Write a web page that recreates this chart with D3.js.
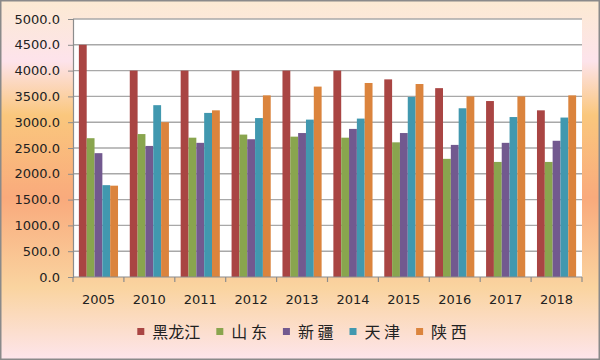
<!DOCTYPE html>
<html><head><meta charset="utf-8">
<script src="https://cdn.jsdelivr.net/npm/d3@7/dist/d3.min.js"></script>
<style>html,body{margin:0;padding:0;background:#fff;}svg{display:block;}</style>
</head><body>
<svg id="c" width="600" height="360"></svg>
<script>
const years = ["2005","2010","2011","2012","2013","2014","2015","2016","2017","2018"];
const seriesNames = ["黑龙江","山 东","新 疆","天 津","陕 西"];
const seriesColors = ["#A94543","#89A54E","#72598F","#4198AF","#DB843D"];
const heilongjiang = [4500,4000,4000,4000,4000,4000,3830,3660,3410,3230];
const shandong     = [2690,2770,2700,2760,2720,2700,2610,2290,2230,2230];
const xinjiang     = [2400,2540,2600,2670,2790,2870,2790,2560,2600,2640];
const tianjin      = [1780,3330,3180,3080,3050,3070,3490,3270,3100,3090];
const shaanxi      = [1770,3000,3230,3520,3690,3760,3740,3500,3500,3520];
const yTicks = [0,500,1000,1500,2000,2500,3000,3500,4000,4500,5000];

const seriesValues = [heilongjiang, shandong, xinjiang, tianjin, shaanxi];
const W = 600, H = 360;
const plot = {l:73, r:582, t:19, b:277};
const svg = d3.select("#c");

// background gradient
const defs = svg.append("defs");
const g = defs.append("linearGradient").attr("id","bg").attr("x1",0).attr("y1",0).attr("x2",0).attr("y2",1);
[[0,"#FCEAD2"],[0.17,"#FDE3EB"],[0.32,"#FAC77D"],[0.55,"#F9AA7C"],[0.8,"#FAD4A0"],[1,"#FDE5EC"]]
  .forEach(([o,c])=>g.append("stop").attr("offset",o).attr("stop-color",c));
svg.append("rect").attr("x",0).attr("y",0).attr("width",W).attr("height",H).attr("fill","url(#bg)");
svg.append("rect").attr("x",0.75).attr("y",0.75).attr("width",W-1.5).attr("height",H-1.5)
  .attr("fill","none").attr("stroke","#8a8a8a").attr("stroke-width",1.5);

// plot area
svg.append("rect").attr("x",plot.l).attr("y",plot.t).attr("width",plot.r-plot.l).attr("height",plot.b-plot.t).attr("fill","#fff");

const pi = 1.5/6.5;
const x = d3.scaleBand().domain(years).range([plot.l, plot.r]).paddingInner(pi).paddingOuter(pi/2);
const xs = d3.scaleBand().domain(d3.range(seriesNames.length)).range([0, x.bandwidth()]).padding(0);
const y = d3.scaleLinear().domain([0,5000]).range([plot.b, plot.t]);

// gridlines
svg.append("g").selectAll("line").data(yTicks.filter(d=>d>0)).join("line")
  .attr("x1",plot.l).attr("x2",plot.r).attr("y1",d=>y(d)).attr("y2",d=>y(d))
  .attr("stroke","#a8a8a8").attr("stroke-width",1.4);

// bars
const groups = svg.append("g").selectAll("g").data(years).join("g")
  .attr("transform",d=>`translate(${x(d)},0)`);
groups.selectAll("rect").data((d,i)=>seriesValues.map((s,k)=>({k, v:s[i]}))).join("rect")
  .attr("x",d=>xs(d.k)).attr("width",xs.bandwidth())
  .attr("y",d=>y(d.v)).attr("height",d=>plot.b - y(d.v))
  .attr("fill",d=>seriesColors[d.k]);

// y axis
const yAxis = svg.append("g").attr("transform",`translate(${plot.l},0)`)
  .call(d3.axisLeft(y).tickValues(yTicks).tickFormat(d3.format(".1f")).tickSize(5).tickPadding(8));
yAxis.select(".domain").attr("stroke","#8c8c8c").attr("stroke-width",1.2);
yAxis.selectAll(".tick line").attr("stroke","#8c8c8c");
yAxis.selectAll("text").attr("font-family","DejaVu Sans, sans-serif").attr("font-size",13).attr("fill","#222");

// x axis
const step = x.step();
const xAxis = svg.append("g").attr("transform",`translate(0,${plot.b})`);
xAxis.append("line").attr("x1",plot.l).attr("x2",plot.r).attr("stroke","#8c8c8c").attr("stroke-width",1.2);
xAxis.selectAll("line.tk").data(d3.range(years.length+1)).join("line").attr("class","tk")
  .attr("x1",i=>plot.l+i*step).attr("x2",i=>plot.l+i*step).attr("y1",0).attr("y2",5)
  .attr("stroke","#8c8c8c").attr("stroke-width",1.2);
xAxis.selectAll("text").data(years).join("text")
  .attr("x",d=>x(d)+x.bandwidth()/2).attr("y",27)
  .attr("text-anchor","middle").attr("font-family","DejaVu Sans, sans-serif").attr("font-size",13).attr("fill","#222")
  .text(d=>d);

// legend
const leg = svg.append("g");
let cx = 0;
const items = [];
seriesNames.forEach((n,k)=>{
  const it = leg.append("g");
  it.append("rect").attr("x",0).attr("y",-4).attr("width",7).attr("height",7).attr("fill",seriesColors[k]);
  const t = it.append("text").attr("x",15).attr("y",0).attr("dy","0.36em")
    .attr("font-family","Noto Sans CJK SC, sans-serif").attr("font-size",16).attr("fill","#222")
    .attr("xml:space","preserve").style("white-space","pre").text(n);
  const w = 15 + t.node().getComputedTextLength();
  it.attr("transform",`translate(${cx},0)`);
  cx += w + 16;
});
const total = cx - 16;
leg.attr("transform",`translate(${302 - total/2},332)`);
</script>
</body></html>
